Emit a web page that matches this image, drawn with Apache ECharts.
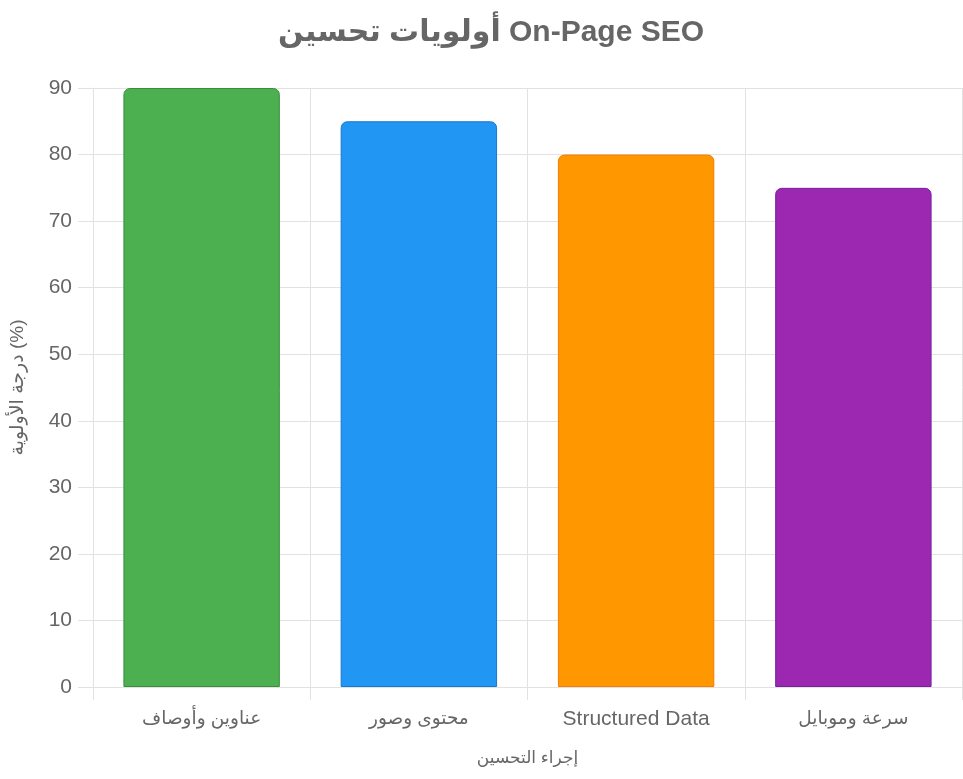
<!DOCTYPE html>
<html>
<head>
<meta charset="utf-8">
<script src="https://cdn.jsdelivr.net/npm/echarts@6/dist/echarts.min.js"></script>
<style>
    html, body { margin: 0; padding: 0; background: #fff; }
    #chart { width: 963px; height: 779px; }
</style>
</head>
<body>
<div id="chart"></div>
<script>
    // 数据
    var categories = ['عناوين وأوصاف', 'محتوى وصور', 'Structured Data', 'سرعة وموبايل'];
    var priorities = [90, 85, 80, 75];
    var fillColors = ['#4CAF50', '#2196F3', '#FF9800', '#9C27B0'];
    var borderColors = ['#388E3C', '#1976D2', '#F57C00', '#7B1FA2'];

    var FONT = '"Liberation Sans", Arial, "DejaVu Sans", sans-serif';
    var GRID_COLOR = '#e2e2e2';

    function buildBars() {
        return priorities.map(function (v, i) {
            return {
                value: v,
                itemStyle: {
                    color: fillColors[i],
                    borderColor: borderColors[i],
                    borderWidth: 1,
                    borderRadius: [6, 6, 0, 0]
                }
            };
        });
    }

    // 阿拉伯文字体渲染偏宽，单独调小
    function buildCategories() {
        return categories.map(function (name) {
            var isArabic = /[\u0600-\u06FF]/.test(name);
            return {
                value: name,
                textStyle: { fontSize: isArabic ? 18.5 : 21 }
            };
        });
    }

    var chart = echarts.init(document.getElementById('chart'));
    chart.setOption({
        animation: false,
        title: {
            text: 'أولويات تحسين On-Page SEO',
            left: 273,
            top: 13,
            textStyle: { fontFamily: FONT, fontSize: 30, fontWeight: 'bold', color: '#666' }
        },
        grid: { left: 89, right: 1, top: 88, bottom: 92 },
        xAxis: {
            type: 'category',
            data: buildCategories(),
            name: 'إجراء التحسين',
            nameLocation: 'middle',
            nameGap: 63,
            nameTextStyle: { fontFamily: FONT, fontSize: 17, color: '#666' },
            axisLine: { show: true, lineStyle: { color: GRID_COLOR, width: 1 } },
            axisTick: { show: true, length: 13, lineStyle: { color: GRID_COLOR } },
            axisLabel: { fontFamily: FONT, fontSize: 21, color: '#666', margin: 22 },
            splitLine: { show: true, lineStyle: { color: GRID_COLOR } }
        },
        yAxis: {
            type: 'value',
            min: 0,
            max: 90,
            interval: 10,
            name: 'درجة الأولوية (%)',
            nameLocation: 'middle',
            nameGap: 66,
            nameTextStyle: { fontFamily: FONT, fontSize: 19, color: '#666' },
            axisLine: { show: true, lineStyle: { color: GRID_COLOR, width: 1 } },
            axisTick: { show: true, length: 15, lineStyle: { color: GRID_COLOR } },
            axisLabel: { fontFamily: FONT, fontSize: 21, color: '#666', margin: 21 },
            splitLine: { show: true, lineStyle: { color: GRID_COLOR } }
        },
        series: [{
            type: 'bar',
            data: buildBars(),
            barWidth: '72%'
        }]
    });
</script>
</body>
</html>
